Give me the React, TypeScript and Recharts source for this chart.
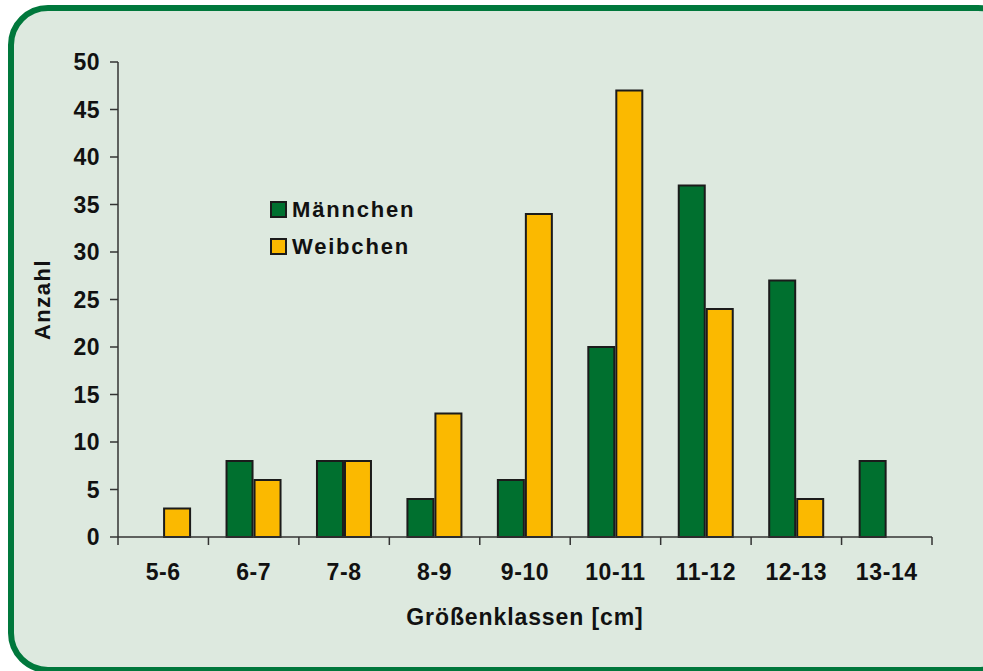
import { BarChart, Bar, XAxis, YAxis, Legend } from "recharts";

const classes = ["5-6", "6-7", "7-8", "8-9", "9-10", "10-11", "11-12", "12-13", "13-14"];
const maennchen = [0, 8, 8, 4, 6, 20, 37, 27, 8];
const weibchen = [3, 6, 8, 13, 34, 47, 24, 4, 0];
const yTicks = [0, 5, 10, 15, 20, 25, 30, 35, 40, 45, 50];

const data = classes.map((c, i) => ({ cls: c, m: maennchen[i], w: weibchen[i] }));

const GREEN = "#00702f";
const YELLOW = "#fbb900";
const INK = "#111";
const font = { fontFamily: "'Liberation Sans', Arial, sans-serif", fontWeight: 700 };

// label at the class centre, tick marks on the class edges (half a band either side)
function ClassTick(props: any) {
  const { x, y, payload, index } = props;
  const half = payload.offset ?? 0;
  const last = index === classes.length - 1;
  return (
    <g>
      <line x1={x - half} y1={y} x2={x - half} y2={y + 8} stroke="#333" strokeWidth={1.5} />
      {last && <line x1={x + half} y1={y} x2={x + half} y2={y + 8} stroke="#333" strokeWidth={1.5} />}
      <text
        x={x}
        y={y + 27}
        dy="0.71em"
        textAnchor="middle"
        fill={INK}
        style={{ ...font, fontSize: 23, letterSpacing: 0.6 }}
      >
        {payload.value}
      </text>
    </g>
  );
}

function LegendBox(props: any) {
  const { payload } = props;
  return (
    <div style={{ display: "flex", flexDirection: "column", gap: 14 }}>
      {(payload || []).map((e: any) => (
        <div key={e.value} style={{ display: "flex", alignItems: "center", height: 23 }}>
          <span
            style={{
              display: "inline-block",
              width: 13,
              height: 13,
              background: e.color,
              border: "2px solid #1b1b1b",
              marginRight: 5,
            }}
          />
          <span style={{ ...font, fontSize: 22, color: INK, letterSpacing: 1.8 }}>{e.value}</span>
        </div>
      ))}
    </div>
  );
}

export default function App() {
  return (
    <div style={{ position: "absolute", left: 0, top: 0, width: 983, height: 671, overflow: "hidden", background: "#fff" }}>
      <div
        style={{
          position: "absolute",
          left: 8,
          top: 5,
          width: 1010,
          height: 668,
          boxSizing: "border-box",
          border: "6px solid #00783c",
          borderRadius: 40,
          background: "#dde9df",
        }}
      />
      <div style={{ position: "absolute", left: 0, top: 0 }}>
        <BarChart
          width={983}
          height={671}
          data={data}
          margin={{ top: 62, right: 51, left: 0, bottom: 34 }}
          barCategoryGap="20%"
          barGap={2}
        >
          <XAxis
            dataKey="cls"
            interval={0}
            height={100}
            tickLine={false}
            tickSize={0}
            tickMargin={0}
            axisLine={{ stroke: "#333", strokeWidth: 1.5 }}
            tick={<ClassTick />}
            label={{
              value: "Größenklassen [cm]",
              position: "insideBottom",
              offset: 12,
              fill: INK,
              style: { ...font, fontSize: 23, letterSpacing: 0.9 },
            }}
          />
          <YAxis
            width={118}
            domain={[0, 50]}
            ticks={yTicks}
            interval={0}
            tickSize={8}
            tickMargin={10}
            axisLine={{ stroke: "#333", strokeWidth: 1.5 }}
            tickLine={{ stroke: "#333", strokeWidth: 1.5 }}
            tick={{ fill: INK, ...font, fontSize: 23, letterSpacing: 0.4 }}
            label={{
              value: "Anzahl",
              angle: -90,
              position: "insideLeft",
              offset: 42,
              fill: INK,
              style: { ...font, fontSize: 22, textAnchor: "middle", letterSpacing: 1.5 },
            }}
          />
          <Legend
            layout="vertical"
            align="center"
            verticalAlign="middle"
            content={<LegendBox />}
            wrapperStyle={{ left: 270, top: 198, width: 220 }}
          />
          <Bar dataKey="m" name="Männchen" fill={GREEN} stroke="#1b1b1b" strokeWidth={2} isAnimationActive={false} />
          <Bar dataKey="w" name="Weibchen" fill={YELLOW} stroke="#1b1b1b" strokeWidth={2} isAnimationActive={false} />
        </BarChart>
      </div>
    </div>
  );
}
